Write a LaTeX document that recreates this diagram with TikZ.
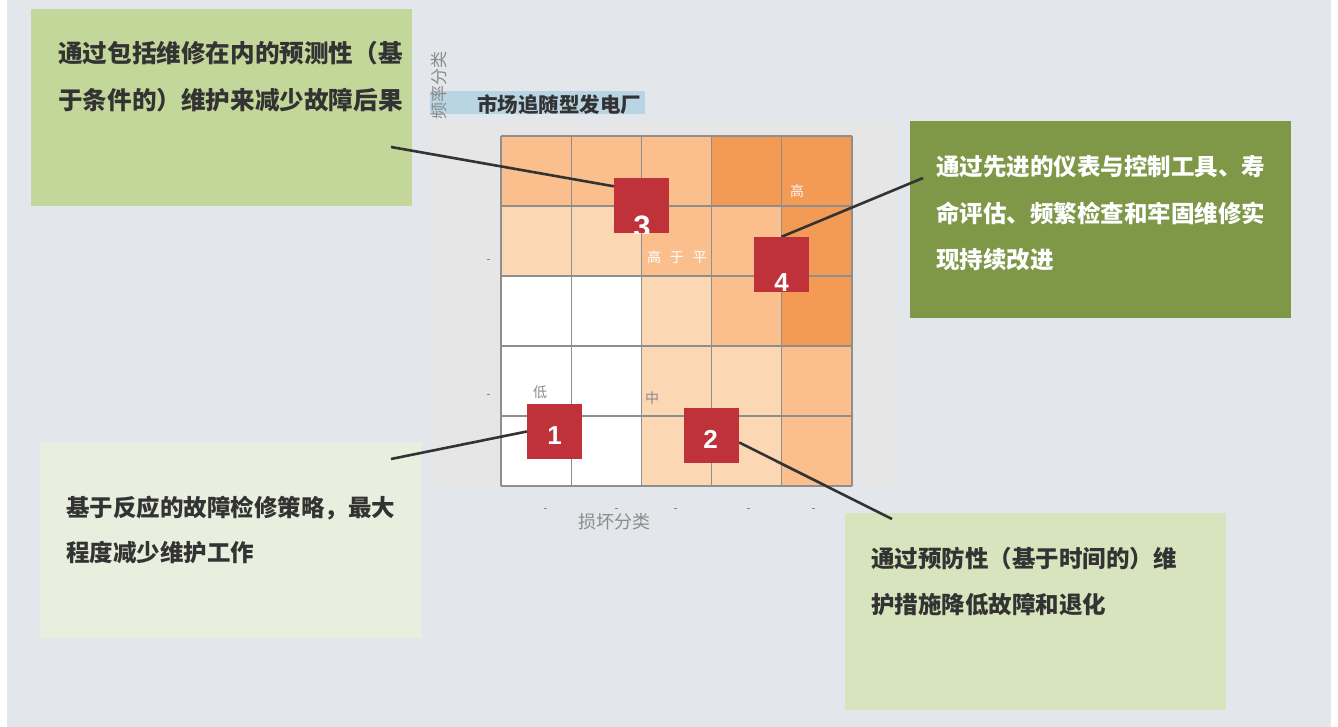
\documentclass[tikz,border=0pt]{standalone}
\usepackage{fontspec}
\setmainfont{Noto Sans CJK SC}
\newfontfamily\numfont{Liberation Sans}
\usetikzlibrary{calc}
\definecolor{bgc}{HTML}{E3E7EB}
\definecolor{panelc}{HTML}{E6E6E6}
\definecolor{titlebar}{HTML}{B9D5E3}
\definecolor{oA}{HTML}{FCD7B4}
\definecolor{oB}{HTML}{FABF8C}
\definecolor{oC}{HTML}{F39A55}
\definecolor{wC}{HTML}{FFFFFF}
\definecolor{gridc}{HTML}{8E8E8E}
\definecolor{redsq}{HTML}{C0323A}
\definecolor{boxTL}{HTML}{C4D79B}
\definecolor{boxR}{HTML}{7F9848}
\definecolor{boxBL}{HTML}{E9EFDE}
\definecolor{boxBR}{HTML}{D8E4BD}
\definecolor{darktext}{HTML}{333333}
\definecolor{axisgray}{HTML}{8A8A8A}
\tikzset{
  box/.style={inner sep=0pt, draw=none},
  sqbox/.style={fill=redsq, minimum size=55pt, inner sep=0pt},
  conn/.style={draw=darktext, line width=2.6pt},
  gridline/.style={draw=gridc, line width=1.2pt},
  line/.style={inner sep=0pt, anchor=base west, font=\bfseries\fontsize{23.5}{28}\selectfont},
  digit/.style={inner sep=0pt, anchor=base, text=white, font=\numfont\bfseries\fontsize{26}{30}\selectfont},
  cell/.style={inner sep=0pt, font=\fontsize{14}{16}\selectfont},
  tick/.style={draw=axisgray, line width=0.6pt}
}
\begin{document}
\begin{tikzpicture}[x=1pt,y=-1pt]
\useasboundingbox (0,0) rectangle (1338,727);
\fill[white] (0,0) rectangle (1338,727);
\fill[bgc] (7,0) rectangle (1331,727);

% text boxes
\node[box, fill=boxTL, minimum width=381pt, minimum height=197pt] (bTL) at (221.5,107.5) {};
\node[box, fill=boxR, minimum width=381pt, minimum height=197pt] (bR) at (1100.5,219.5) {};
\node[box, fill=boxBL, minimum width=381pt, minimum height=196pt] (bBL) at (230.5,540) {};
\node[box, fill=boxBR, minimum width=381pt, minimum height=197pt] (bBR) at (1035.5,611.5) {};

\node[line, text=darktext, font=\bfseries\fontsize{24.6}{28}\selectfont] (tl1) at (58,63) {通过包括维修在内的预测性（基};
\node[line, text=darktext, font=\bfseries\fontsize{24.6}{28}\selectfont] (tl2) at (58,110) {于条件的）维护来减少故障后果};
\node[line, text=white] (r1) at (936,176) {通过先进的仪表与控制工具、寿};
\node[line, text=white] (r2) at (936,223) {命评估、频繁检查和牢固维修实};
\node[line, text=white] (r3) at (936,269) {现持续改进};
\node[line, text=darktext] (bl1) at (66,516) {基于反应的故障检修策略，最大};
\node[line, text=darktext] (bl2) at (66,561) {程度减少维护工作};
\node[line, text=darktext] (br1) at (871,567) {通过预防性（基于时间的）维};
\node[line, text=darktext] (br2) at (871,613) {护措施降低故障和退化};

% chart panel
\fill[panelc] (433,122) rectangle (893,487);
\fill[titlebar] (430,91) rectangle (645,114);
\node[inner sep=0pt, anchor=base, text=darktext, font=\bfseries\fontsize{20.5}{24}\selectfont] (title) at (559,113) {市场追随型发电厂};
\node[inner sep=0pt, rotate=90, text=axisgray, font=\fontsize{17}{20}\selectfont] (ylab) at (439,86) {频率分类};
\node[inner sep=0pt, text=axisgray, font=\fontsize{18}{20}\selectfont] (xlab) at (614,522) {损坏分类};

% heat grid
\foreach \c [count=\i from 0] in {oB,oB,oB,oC,oC} \fill[\c] ({501+70.2*\i},136) rectangle ++(70.2,70);
\foreach \c [count=\i from 0] in {oA,oA,oB,oB,oC} \fill[\c] ({501+70.2*\i},206) rectangle ++(70.2,70);
\foreach \c [count=\i from 0] in {wC,wC,oA,oB,oC} \fill[\c] ({501+70.2*\i},276) rectangle ++(70.2,70);
\foreach \c [count=\i from 0] in {wC,wC,oA,oA,oB} \fill[\c] ({501+70.2*\i},346) rectangle ++(70.2,70);
\foreach \c [count=\i from 0] in {wC,wC,oA,oA,oB} \fill[\c] ({501+70.2*\i},416) rectangle ++(70.2,70);
\foreach \i in {0,...,5} {
  \draw[gridline] ({501+70.2*\i},136) -- ({501+70.2*\i},486);
  \draw[gridline] (501,{136+70*\i}) -- (852,{136+70*\i});
}

% tick marks
\foreach \y in {259,394} \draw[tick] (486.5,\y) -- (489.5,\y);
\foreach \x in {545,616,675,748,813} \draw[tick] (\x-1.5,508) -- (\x+1.5,508);

% cell labels
\node[cell, text=white!90!oC] (lh) at (797,191) {高};
\node[cell, text=white] (lhm) at (677,257) {高\hspace{9pt}于\hspace{9pt}平};
\node[cell, text=axisgray] (ll) at (540,392) {低};
\node[cell, text=axisgray] (lm) at (652,398) {中};

% connectors
\coordinate (e3) at (391,147);
\coordinate (e4) at (923,178);
\coordinate (e1) at (391,459);
\coordinate (e2) at (892,519);
\node[sqbox] (s3) at (641.5,206) {};
\node[sqbox] (s4) at (781.5,264.5) {};
\node[sqbox] (s1) at (554.5,431.5) {};
\node[sqbox] (s2) at (711.5,435.5) {};
\draw[conn] (e3) -- ([yshift=-8pt]s3.north west);
\draw[conn] (e4) -- (s4.north);
\draw[conn] (e1) -- (s1.west);
\draw[conn] ([yshift=-7pt]s2.east) -- (e2);
\node[sqbox] at (s3) {};
\node[sqbox] at (s4) {};
\node[sqbox] at (s1) {};
\node[sqbox] at (s2) {};

% digits
\begin{scope}
  \clip (s3.north west) rectangle (s3.south east);
  \node[digit, font=\numfont\bfseries\fontsize{31}{34}\selectfont] (n3) at (642,238) {3};
\end{scope}
\node[digit] (n4) at (781.5,291) {4};
\node[digit] (n1) at (554.5,444) {1};
\node[digit] (n2) at (710.5,448) {2};
\end{tikzpicture}
\end{document}
